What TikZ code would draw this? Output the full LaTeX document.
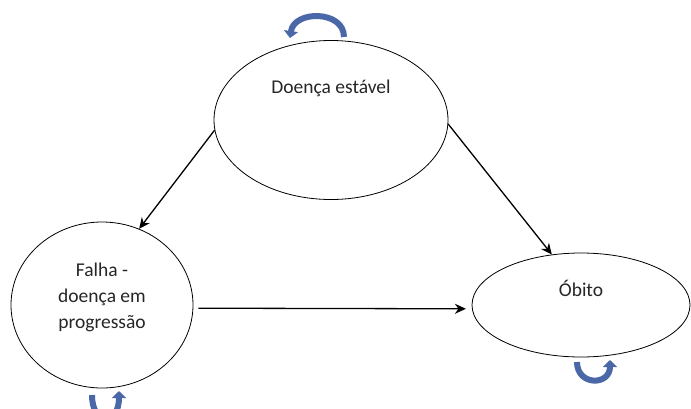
\documentclass[tikz,border=0pt]{standalone}
\usepackage{fontspec}
\setmainfont{Carlito}
\usetikzlibrary{arrows.meta,positioning,shapes.geometric}
\definecolor{loopblue}{RGB}{74,104,168}

\begin{document}
\begin{tikzpicture}[x=1pt,y=-1pt,
      state_node/.style={
         ellipse,
         draw=black,
         line width=0.8pt,
         fill=white,
         inner sep=0pt},
      state_text/.style={
         font=\fontsize{19.5}{26}\selectfont,
         align=center,
         text=black!85},
      arrow_black/.style={
         -{Stealth[length=11pt,width=10pt]},
         line width=1.3pt},
      arrow_loop/.style={
         -{Triangle[length=7pt,width=14pt]},
         line width=6pt,
         draw=loopblue}
]
      \useasboundingbox (0,0) rectangle (691,408);
      \clip (0,0) rectangle (691,408);

      %states
      \node[state_node,minimum width=234pt,minimum height=159pt,
        label={[state_text,yshift=32pt]center:Doença estável}] (est) at (331,120) {};
      \node[state_node,minimum width=182pt,minimum height=166pt,
        label={[state_text,yshift=8pt]center:Falha -\\doença em\\progressão}] (falha) at (102,305) {};
      \node[state_node,minimum width=218pt,minimum height=104pt,
        label={[state_text,yshift=17pt]center:Óbito}] (obito) at (581,305) {};

      %transitions
      \draw [arrow_black] (est.185) -- (falha.64);
      \draw [arrow_black] (est.358) -- (obito.120);
      \draw [arrow_black,shorten <=5pt,shorten >=6pt] (falha.358) -- (obito.182);

      %stay in the same state
      \coordinate (est_a) at (344,37);
      \coordinate (est_b) at (290,38);
      \coordinate (falha_a) at (92,395);
      \coordinate (falha_b) at (119,391);
      \coordinate (obito_a) at (577,362);
      \coordinate (obito_b) at (610,360);

      \draw [arrow_loop] (est_a) .. controls (344,10) and (294,10) .. (est_b);
      \draw [arrow_loop] (falha_a) .. controls (92,426) and (119,426) .. (falha_b);
      \draw [arrow_loop] (obito_a) .. controls (577,386) and (610,386) .. (obito_b);

\end{tikzpicture}
\end{document}
